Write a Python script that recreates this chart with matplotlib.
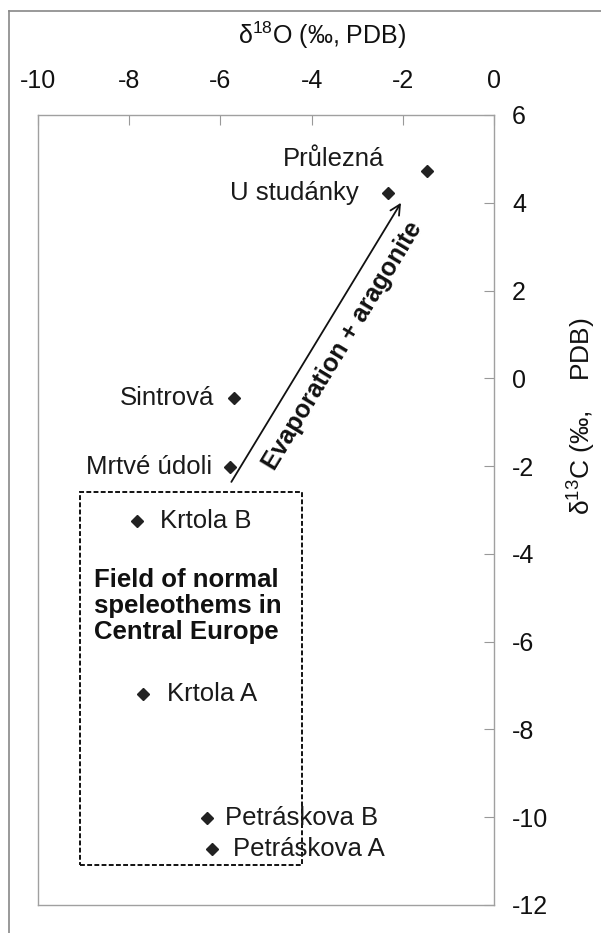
import matplotlib.pyplot as plt
from matplotlib.lines import Line2D
from matplotlib.patches import Rectangle

plt.rcParams['font.family'] = ['Liberation Sans', 'DejaVu Sans']
plt.rcParams['axes.unicode_minus'] = False
plt.rcParams['mathtext.fontset'] = 'custom'
plt.rcParams['mathtext.rm'] = 'Liberation Sans'

# samples: d18O (x), d13C (y)
names = ['Průlezná', 'U studánky', 'Sintrová', 'Mrtvé údoli',
         'Krtola B', 'Krtola A', 'Petráskova B', 'Petráskova A']
d18o = [-1.47, -2.33, -5.71, -5.78, -7.82, -7.69, -6.29, -6.18]
d13c = [4.72, 4.22, -0.45, -2.02, -3.25, -7.19, -10.01, -10.72]

# label offsets in points (dx, dy)
label_dx = [-31, -21, -14, -13, 16, 17, 13, 15]
label_dy = [9, 0, 0, 0, 0, 0, 0, 0]

xticks = [-10, -8, -6, -4, -2, 0]
yticks = [-12, -10, -8, -6, -4, -2, 0, 2, 4, 6]

# normal field box and trend arrow (data coords)
field_x = (-9.08, -4.22)
field_y = (-11.08, -2.59)
arrow_start = (-5.76, -2.36)
arrow_end = (-2.04, 4.0)

fig = plt.figure(figsize=(6.01, 9.33), dpi=100)
ax = fig.add_axes([38 / 601, 1 - 905 / 933, 456 / 601, 790 / 933])

ax.plot(d18o, d13c, 'D', color='#222222', markersize=6.3, linestyle='none')
for n, x, y, dx, dy in zip(names, d18o, d13c, label_dx, label_dy):
    ax.annotate(n, (x, y), xytext=(dx, dy), textcoords='offset points',
                ha='right' if dx < 0 else 'left', va='center',
                fontsize=18.5, color='#1a1a1a')

ax.add_patch(Rectangle((field_x[0], field_y[0]), field_x[1] - field_x[0],
                       field_y[1] - field_y[0], fill=False, color='#111111',
                       lw=1.4, linestyle=(0, (2.5, 1.2))))
ax.text(-8.77, -5.18, 'Field of normal\nspeleothems in\nCentral Europe',
        fontsize=18.5, fontweight='bold', ha='left', va='center',
        linespacing=1.1, color='#111111')

ax.annotate('', xy=arrow_end, xytext=arrow_start,
            arrowprops=dict(arrowstyle='->', lw=1.3, color='#111111',
                            mutation_scale=18, shrinkA=0, shrinkB=0))
ax.text(-3.33, 0.74, 'Evaporation + aragonite', rotation=58.8,
        rotation_mode='anchor', ha='center', va='center',
        fontsize=18, fontweight='bold', color='#111111')

ax.set_xlim(-10, 0)
ax.set_ylim(-12, 6)
ax.set_xticks(xticks)
ax.set_yticks(yticks)
ax.xaxis.tick_top()
ax.yaxis.tick_right()
ax.tick_params(axis='x', direction='in', length=7, color='#999999',
               labelsize=18, pad=16, labelcolor='#111111')
ax.tick_params(axis='y', direction='in', length=7, color='#999999',
               labelsize=18, pad=13, labelcolor='#111111')
for s in ax.spines.values():
    s.set_color('#a0a0a0')
    s.set_linewidth(1)

fig.text(322 / 601, 1 - 35 / 933, r'$\mathregular{\delta^{18}}$O (‰, PDB)',
         fontsize=18, ha='center', va='center', color='#111111')
fig.text(582 / 601, 1 - 416 / 933, r'$\mathregular{\delta^{13}}$C (‰,    PDB)',
         fontsize=19, ha='center', va='center', rotation=90, color='#111111')

# outer frame
fig.add_artist(Line2D([9 / 601, 1], [1 - 11 / 933, 1 - 11 / 933],
                      color='#888888', lw=1.2))
fig.add_artist(Line2D([9 / 601, 9 / 601], [0, 1 - 11 / 933],
                      color='#888888', lw=1.2))

fig.savefig('out.png', dpi=100)
